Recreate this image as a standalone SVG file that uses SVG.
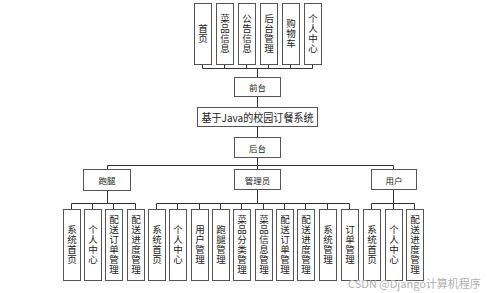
<svg xmlns="http://www.w3.org/2000/svg" width="499" height="293" viewBox="0 0 499 293">
<style>
.b{fill:#fff;stroke:#555;stroke-width:1}
.l{stroke:#333;stroke-width:1;fill:none}
text{font-family:"Noto Sans CJK SC","Liberation Sans",sans-serif;fill:#222;text-anchor:middle;dominant-baseline:central}
.v{font-size:9.5px;writing-mode:vertical-rl;letter-spacing:0.5px}
.h{font-size:8.5px}
.t{font-size:11px}
.w{font-size:11px;fill:#b0b0b0;text-anchor:start}
</style>
<rect width="499" height="293" fill="#fff"/>
<g id="connectors">
<path class="l" d="M202.5 64V68.5M224.5 64V68.5M246.5 64V68.5M268.5 64V68.5M290.5 64V68.5M312.5 64V68.5M202.5 68.5H312.5M257.5 68.5V77"/>
<path class="l" d="M257.5 97V107M257.5 126V137M257.5 158V165.5"/>
<path class="l" d="M107.5 165.5H393.5M107.5 165.5V169M257.5 165.5V169M393.5 165.5V169"/>
<path class="l" d="M107.5 191V203.5M71.5 203.5H135.5M71.5 203.5V209M92.5 203.5V209M113.5 203.5V209M135.5 203.5V209"/>
<path class="l" d="M257.5 190V203.5M156.5 203.5H349.5M156.5 203.5V209M177.5 203.5V209M199.5 203.5V209M220.5 203.5V209M241.5 203.5V209M263.5 203.5V209M284.5 203.5V209M305.5 203.5V209M327.5 203.5V209M349.5 203.5V209"/>
<path class="l" d="M393.5 190V203.5M371.5 203.5H414.5M371.5 203.5V209M393.5 203.5V209M414.5 203.5V209"/>
</g>
<g id="n-shouye"><rect class="b" x="194.5" y="3.5" width="17" height="61"/><text class="v" x="203" y="34">首页</text></g>
<g id="n-caipin"><rect class="b" x="216.5" y="3.5" width="17" height="61"/><text class="v" x="225" y="34">菜品信息</text></g>
<g id="n-gonggao"><rect class="b" x="238.5" y="3.5" width="17" height="61"/><text class="v" x="247" y="34">公告信息</text></g>
<g id="n-houtaiguanli"><rect class="b" x="260.5" y="3.5" width="17" height="61"/><text class="v" x="269" y="34">后台管理</text></g>
<g id="n-gouwuche"><rect class="b" x="282.5" y="3.5" width="17" height="61"/><text class="v" x="291" y="34">购物车</text></g>
<g id="n-geren"><rect class="b" x="304.5" y="3.5" width="17" height="61"/><text class="v" x="313" y="34">个人中心</text></g>
<g id="n-qiantai"><rect class="b" x="234.5" y="77.5" width="46" height="19"/><text class="h" x="257.5" y="87">前台</text></g>
<g id="n-title"><rect class="b" x="197.5" y="107.5" width="120" height="19"/><text class="t" x="257.5" y="117" textLength="112" lengthAdjust="spacingAndGlyphs">基于Java的校园订餐系统</text></g>
<g id="n-houtai"><rect class="b" x="234.5" y="137.5" width="46" height="20"/><text class="h" x="257.5" y="147.5">后台</text></g>
<g id="n-paotui"><rect class="b" x="83.5" y="169.5" width="47" height="21"/><text class="h" x="107" y="180">跑腿</text></g>
<g id="n-admin"><rect class="b" x="234.5" y="169.5" width="46" height="20"/><text class="h" x="257.5" y="179.5">管理员</text></g>
<g id="n-user"><rect class="b" x="371.5" y="169.5" width="45" height="20"/><text class="h" x="394" y="179.5">用户</text></g>
<g id="p1"><rect class="b" x="63.5" y="209.5" width="17" height="71"/><text class="v" x="72" y="245">系统首页</text></g>
<g id="p2"><rect class="b" x="84.5" y="209.5" width="17" height="71"/><text class="v" x="93" y="245">个人中心</text></g>
<g id="p3"><rect class="b" x="105.5" y="209.5" width="17" height="71"/><text class="v" x="114" y="245">配送订单管理</text></g>
<g id="p4"><rect class="b" x="127.5" y="209.5" width="17" height="71"/><text class="v" x="136" y="245">配送进度管理</text></g>
<g id="a1"><rect class="b" x="148.5" y="209.5" width="17" height="71"/><text class="v" x="157" y="245">系统首页</text></g>
<g id="a2"><rect class="b" x="169.5" y="209.5" width="17" height="71"/><text class="v" x="178" y="245">个人中心</text></g>
<g id="a3"><rect class="b" x="191.5" y="209.5" width="17" height="71"/><text class="v" x="200" y="245">用户管理</text></g>
<g id="a4"><rect class="b" x="212.5" y="209.5" width="17" height="71"/><text class="v" x="221" y="245">跑腿管理</text></g>
<g id="a5"><rect class="b" x="233.5" y="209.5" width="17" height="71"/><text class="v" x="242" y="245">菜品分类管理</text></g>
<g id="a6"><rect class="b" x="255.5" y="209.5" width="17" height="71"/><text class="v" x="264" y="245">菜品信息管理</text></g>
<g id="a7"><rect class="b" x="276.5" y="209.5" width="17" height="71"/><text class="v" x="285" y="245">配送订单管理</text></g>
<g id="a8"><rect class="b" x="297.5" y="209.5" width="17" height="71"/><text class="v" x="306" y="245">配送进度管理</text></g>
<g id="a9"><rect class="b" x="319.5" y="209.5" width="17" height="71"/><text class="v" x="328" y="245">系统管理</text></g>
<g id="a10"><rect class="b" x="341.5" y="209.5" width="17" height="71"/><text class="v" x="350" y="245">订单管理</text></g>
<g id="u1"><rect class="b" x="363.5" y="209.5" width="17" height="71"/><text class="v" x="372" y="245">系统首页</text></g>
<g id="u2"><rect class="b" x="385.5" y="209.5" width="17" height="71"/><text class="v" x="394" y="245">个人中心</text></g>
<g id="u3"><rect class="b" x="406.5" y="209.5" width="17" height="71"/><text class="v" x="415" y="245">配送进度管理</text></g>
<text class="w" x="348" y="283">CSDN @Django计算机程序</text>
</svg>
